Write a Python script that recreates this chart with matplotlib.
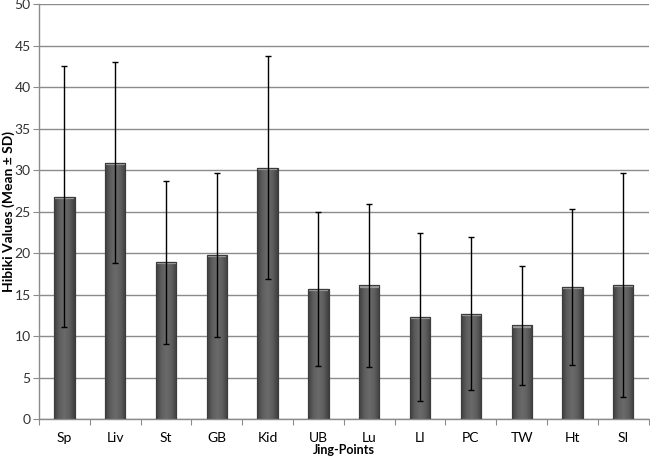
import numpy as np
import matplotlib
matplotlib.use('Agg')
import matplotlib.pyplot as plt
from matplotlib.colors import LinearSegmentedColormap

# Data
points = ['Sp', 'Liv', 'St', 'GB', 'Kid', 'UB', 'Lu', 'LI', 'PC', 'TW', 'Ht', 'SI']
means = [26.8, 30.9, 18.9, 19.8, 30.3, 15.7, 16.1, 12.3, 12.7, 11.3, 15.9, 16.2]
sds = [15.7, 12.1, 9.8, 9.9, 13.4, 9.3, 9.8, 10.1, 9.2, 7.2, 9.4, 13.5]

plt.rcParams['font.family'] = ['Lato', 'DejaVu Sans']

fig = plt.figure(figsize=(6.5, 4.59), dpi=100)
ax = fig.add_axes([0.06, 0.087, 0.938, 0.904])

x = np.arange(len(points))
bars = ax.bar(x, means, width=0.4, color='#5b5b5b', edgecolor='#3c3c3c',
              linewidth=0.8, zorder=2)

# Cylinder-like shading on each bar
cmap = LinearSegmentedColormap.from_list(
    'cyl', ['#3e3e3e', '#5e5e5e', '#6a6a6a', '#5e5e5e', '#3e3e3e'])
grad = np.linspace(0, 1, 64).reshape(1, -1)
for bar in bars:
    x0 = bar.get_x()
    w = bar.get_width()
    h = bar.get_height()
    im = ax.imshow(grad, cmap=cmap, aspect='auto', extent=[x0, x0 + w, 0, h],
                   zorder=2.5, interpolation='bilinear')
    im.set_clip_path(bar)
    # light cap at top
    ax.plot([x0 + 0.01, x0 + w - 0.01], [h - 0.15, h - 0.15], color='#9a9a9a',
            lw=1.6, zorder=2.7, solid_capstyle='butt')
    ax.add_patch(plt.Rectangle((x0, 0), w, h, fill=False, edgecolor='#3c3c3c',
                               lw=0.8, zorder=2.8))

ax.errorbar(x, means, yerr=sds, fmt='none', ecolor='black', elinewidth=1,
            capsize=2, capthick=1, zorder=3)

ax.set_xlim(-0.5, len(points) - 0.5)
ax.set_ylim(0, 50)
ax.set_yticks(np.arange(0, 51, 5))
ax.yaxis.grid(True, color='#8c8c8c', linewidth=1)
ax.set_axisbelow(True)

# tick marks between categories, labels at centres
ax.set_xticks(np.arange(-0.5, len(points), 1))
ax.set_xticklabels([])
ax.set_xticks(x, minor=True)
ax.set_xticklabels(points, minor=True, fontsize=10)
ax.tick_params(axis='x', which='minor', length=0, pad=9)
ax.tick_params(axis='x', which='major', length=4, color='#8c8c8c')
ax.tick_params(axis='y', length=4, color='#8c8c8c', labelsize=10, labelcolor='#333333', pad=2)

for s in ['top', 'right']:
    ax.spines[s].set_visible(False)
for s in ['left', 'bottom']:
    ax.spines[s].set_color('#8c8c8c')
    ax.spines[s].set_linewidth(1)

ax.set_xlabel('Jing-Points', fontsize=9, fontweight='bold')
ax.xaxis.set_label_coords(0.5, -0.06)
ax.set_ylabel('Hibiki Values (Mean ± SD)', fontsize=10, fontweight='bold')
ax.yaxis.set_label_coords(-0.04, 0.5)

plt.savefig('out.png', dpi=100)
